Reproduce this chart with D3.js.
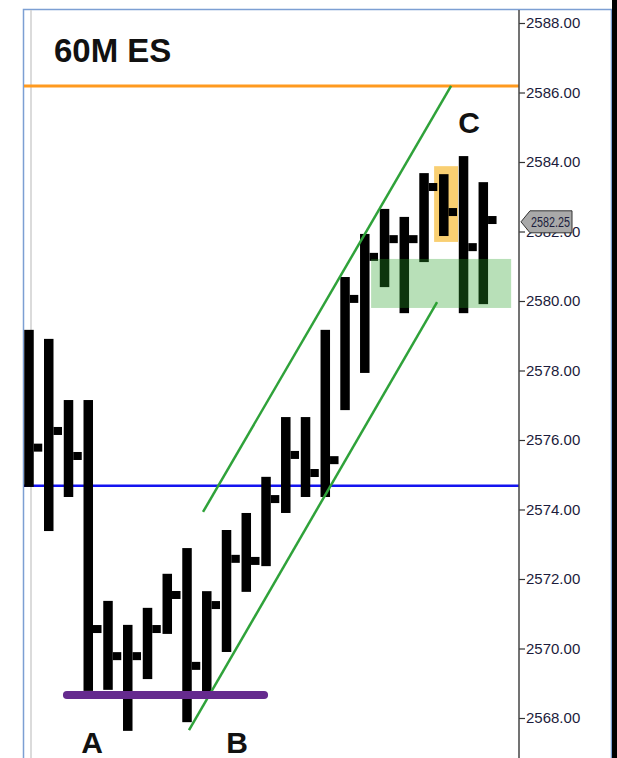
<!DOCTYPE html>
<html lang="en">
<head>
    <meta charset="UTF-8">
    <title>60M ES</title>
    <script src="https://d3js.org/d3.v7.min.js"></script>
    <style>
        body { margin: 0; background: #fff; }
        text { font-family: "Liberation Sans", Arial, sans-serif; }
    </style>
</head>
<body>
<div id="chart"></div>
<script>
    // bar data (HLC, no opens drawn)
    const highs  = [2579.17, 2578.91, 2577.15, 2577.15, 2571.37, 2570.68, 2571.17, 2572.15, 2572.89, 2571.65, 2573.41, 2573.90,
                    2574.94, 2576.66, 2576.66, 2579.17, 2580.69, 2581.93, 2582.65, 2582.42, 2583.68, 2583.65, 2584.17, 2583.42]
    const lows   = [2574.65, 2573.38, 2574.36, 2568.78, 2568.81, 2567.63, 2569.12, 2570.42, 2567.88, 2568.69, 2569.90, 2571.63,
                    2572.37, 2573.90, 2574.36, 2574.36, 2576.86, 2577.93, 2580.40, 2579.65, 2581.12, 2581.87, 2579.65, 2579.91]
    const closes = [2575.78, 2576.26, 2575.54, 2570.56, 2569.78, 2569.78, 2570.56, 2571.54, 2569.50, 2571.25, 2572.58, 2572.52,
                    2574.30, 2575.57, 2575.05, 2575.42, 2580.06, 2581.27, 2581.78, 2581.78, 2583.28, 2582.56, 2581.55, 2582.33]
    const tickValues = [2568, 2570, 2572, 2574, 2576, 2578, 2580, 2582, 2584, 2586, 2588]
    const lastPrice = 2582.25

    // annotations, in bar-index / price units
    const orangeLevel = 2586.19
    const blueLevel = 2574.68
    const purpleLine = [[1.92, 2568.66], [11.9, 2568.66]]
    const upperChannel = [[8.81, 2573.93], [21.37, 2586.19]]
    const lowerChannel = [[8.10, 2567.65], [20.66, 2579.97]]
    const orangeBox = [[20.51, 2583.88], [21.72, 2581.70]]
    const greenBox = [[17.32, 2581.21], [24.41, 2579.80]]
    const pointLabels = [["A", 3.19, 2567.0], ["B", 10.53, 2567.0], ["C", 22.28, 2584.83]]

    const W = 617, H = 758
    const AXIS_X = 519

    const svg = d3.select("#chart").append("svg")
        .attr("width", W)
        .attr("height", H)

    const x = d3.scaleLinear().domain([0, 23]).range([29, 483.3])
    const y = d3.scaleLinear().domain([2568, 2588]).range([718, 23])

    // frame
    svg.append("rect").attr("x", 0).attr("y", 0).attr("width", W).attr("height", H).attr("fill", "#fff")
    svg.append("path")
        .attr("d", `M23.5,${H} V9.5 H611.5 V${H}`)
        .attr("fill", "none").attr("stroke", "#7c9fd3").attr("stroke-width", 1.5)
    svg.append("line")
        .attr("x1", 31).attr("x2", 31).attr("y1", 10).attr("y2", H)
        .attr("stroke", "#cfcfcf").attr("stroke-width", 1.5)
    svg.append("rect").attr("x", 612).attr("y", 0).attr("width", 5).attr("height", H).attr("fill", "#000")

    // orange highlight box (behind bars)
    svg.append("rect")
        .attr("x", x(orangeBox[0][0]))
        .attr("y", y(orangeBox[0][1]))
        .attr("width", x(orangeBox[1][0]) - x(orangeBox[0][0]))
        .attr("height", y(orangeBox[1][1]) - y(orangeBox[0][1]))
        .attr("fill", "#f9cf72")

    // horizontal levels
    svg.append("line")
        .attr("x1", 24).attr("x2", AXIS_X)
        .attr("y1", y(orangeLevel)).attr("y2", y(orangeLevel))
        .attr("stroke", "#ff9a1f").attr("stroke-width", 3)
    svg.append("line")
        .attr("x1", 24).attr("x2", AXIS_X)
        .attr("y1", y(blueLevel)).attr("y2", y(blueLevel))
        .attr("stroke", "#1414f0").attr("stroke-width", 2.5)

    // bars
    const BW = 9.5
    const bars = svg.append("g")
    bars.selectAll("rect.hl").data(highs)
        .enter().append("rect")
        .attr("class", "hl")
        .attr("x", (d, i) => x(i) - BW / 2)
        .attr("y", d => y(d))
        .attr("width", BW)
        .attr("height", (d, i) => y(lows[i]) - y(d))
        .attr("fill", "#000")
    bars.selectAll("rect.cl").data(closes)
        .enter().append("rect")
        .attr("class", "cl")
        .attr("x", (d, i) => x(i) + BW / 2)
        .attr("y", d => y(d) - 4)
        .attr("width", 8.5)
        .attr("height", 8)
        .attr("fill", "#000")

    // channel lines
    const line = d3.line().x(d => x(d[0])).y(d => y(d[1]))
    ;[upperChannel, lowerChannel].forEach(c => {
        svg.append("path").attr("d", line(c))
            .attr("fill", "none").attr("stroke", "#2fa23a").attr("stroke-width", 2.5)
    })

    // green zone (transparent, over bars)
    svg.append("rect")
        .attr("x", x(greenBox[0][0]))
        .attr("y", y(greenBox[0][1]))
        .attr("width", x(greenBox[1][0]) - x(greenBox[0][0]))
        .attr("height", y(greenBox[1][1]) - y(greenBox[0][1]))
        .attr("fill", "rgb(40,160,40)").attr("fill-opacity", 0.33)

    // purple support line
    svg.append("path").attr("d", line(purpleLine))
        .attr("stroke", "#652a8e").attr("stroke-width", 8).attr("stroke-linecap", "round")

    // labels
    svg.append("text")
        .attr("x", 54).attr("y", 62)
        .attr("font-size", 33).attr("font-weight", "bold")
        .attr("fill", "#111")
        .text("60M ES")
    svg.selectAll("text.pt").data(pointLabels)
        .enter().append("text")
        .attr("class", "pt")
        .attr("x", d => x(d[1]))
        .attr("y", d => y(d[2]))
        .attr("text-anchor", "middle")
        .attr("font-size", 30).attr("font-weight", "bold")
        .attr("fill", "#111")
        .text(d => d[0])

    // price axis
    const axis = svg.append("g")
        .attr("transform", `translate(${AXIS_X},0)`)
        .call(d3.axisRight(y).tickValues(tickValues).tickFormat(d3.format(".2f")).tickSize(6).tickPadding(1))
    axis.select(".domain").remove()
    axis.selectAll(".tick line").attr("stroke", "#333").attr("stroke-width", 1.2)
    axis.selectAll(".tick text")
        .attr("font-family", "'Liberation Sans', Arial, sans-serif")
        .attr("font-size", 15).attr("fill", "#1c1c3c")
    svg.append("line")
        .attr("x1", AXIS_X).attr("x2", AXIS_X).attr("y1", 10).attr("y2", H)
        .attr("stroke", "#444").attr("stroke-width", 1.5)

    // last price flag
    const ly = y(lastPrice) - 1
    svg.append("path")
        .attr("d", `M${AXIS_X + 2},${ly} L${AXIS_X + 11},${ly - 11} H${AXIS_X + 53} V${ly + 11} H${AXIS_X + 11} Z`)
        .attr("fill", "#a9a9a9").attr("stroke", "#333").attr("stroke-width", 1)
    svg.append("text")
        .attr("x", AXIS_X + 12).attr("y", ly + 5)
        .attr("font-size", 14).attr("fill", "#1c1c3c")
        .attr("textLength", 39).attr("lengthAdjust", "spacingAndGlyphs")
        .text(d3.format(".2f")(lastPrice))
</script>
</body>
</html>
